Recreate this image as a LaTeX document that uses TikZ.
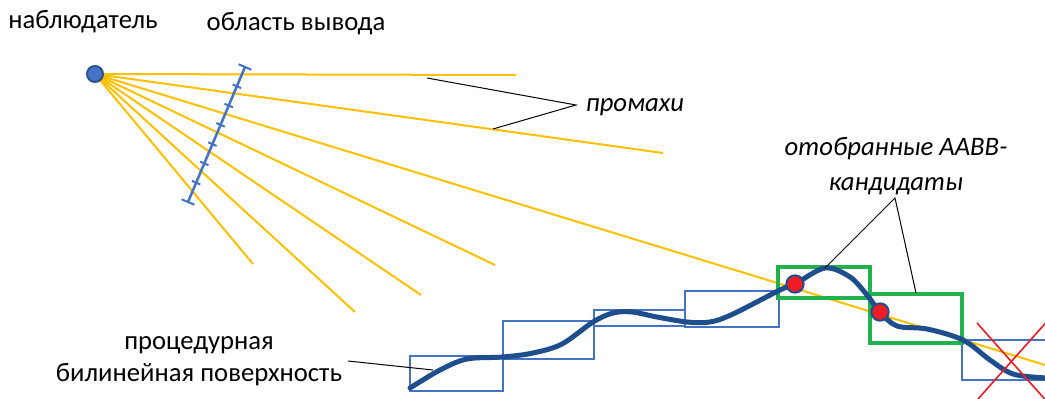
\documentclass[tikz,border=0pt]{standalone}
\usepackage{fontspec}
\setmainfont{Carlito}
\usetikzlibrary{calc}
\definecolor{rayc}{HTML}{FFC000}
\definecolor{boxc}{HTML}{4472C4}
\definecolor{curvec}{HTML}{1F4E8C}
\definecolor{greenc}{HTML}{22B14C}
\definecolor{redc}{HTML}{EE1C25}
\definecolor{dotborder}{HTML}{2F528F}
\tikzset{
  ray/.style={draw=rayc, line width=1.5pt},
  aabb/.style={draw=boxc, line width=2.2pt},
  chosen/.style={draw=greenc, line width=2.5pt},
  leader/.style={draw=black, line width=0.75pt},
  lbl/.style={font=\fontsize{20}{24}\selectfont, inner sep=0pt},
  ilbl/.style={font=\fontsize{20}{26}\selectfont\itshape, inner sep=0pt, align=center},
  hit/.style={circle, fill=redc, draw=curvec, line width=1.5pt, minimum size=13pt, inner sep=0pt},
}
\begin{document}
\begin{tikzpicture}[x=0.75pt,y=-0.75pt]
\useasboundingbox (0,0) rectangle (1045,399);
\clip (0,0) rectangle (1045,399);
\fill[white] (0,0) rectangle (1045,399);

% ray end points
\coordinate (r1) at (516,75);
\coordinate (r2) at (663,153);
\coordinate (r3) at (1060,369.6);
\coordinate (r4) at (495,265);
\coordinate (r5) at (421,295);
\coordinate (r6) at (355,312);
\coordinate (r7) at (253,264);
\coordinate (obsc) at (95,74);

% boxes
\draw[aabb] (410,356) rectangle (503,391);
\draw[aabb] (503,321) rectangle (594,359);
\draw[aabb] (594,310) rectangle (685,326);
\draw[aabb] (685,291) rectangle (779,327);
\draw[aabb] (962,340) rectangle (1060,380);

% rays
\foreach \r in {r1,r2,r3,r4,r5,r6,r7} \draw[ray] (obsc) -- (\r);

% green boxes
\draw[chosen] (778,267) rectangle (870,298);
\draw[chosen] (870,294) rectangle (962,343);

% surface curve
\draw[draw=curvec, line width=3.75pt, line cap=round] plot[smooth, tension=0.55] coordinates {
(410,388) (440,370) (467,359) (503,357) (533,353) (562,344) (593,322) (613,313) (632,312) (657,317) (687,322) (710,322) (733,314) (780,290) (795,284) (825,268) (850,277) (867,295) (880,312) (897,326) (927,329) (963,340) (990,360) (1013,374) (1045,378) (1060,379)};

% hit points
\node[hit] (h1) at (795,284) {};
\node[hit] (h2) at (880,312) {};

% red cross
\draw[draw=redc, line width=1.2pt] (977,323) -- (1050,405);
\draw[draw=redc, line width=1.2pt] (1050,318) -- (978,399);

% observer
\node[circle, fill=boxc, draw=dotborder, line width=1.5pt, minimum size=12pt, inner sep=0pt] (obs) at (obsc) {};

% output area
\coordinate (oa1) at (245,67);
\coordinate (oa2) at (188,202);
\draw[draw=boxc, line width=1.9pt] (oa1) -- (oa2);
\foreach \i in {1,...,6}
  \draw[draw=boxc, line width=1.5pt] ($(oa1)!\i/7!(oa2)$) ++(-4.2,-1.8) -- ++(8.4,3.6);
\draw[draw=boxc, line width=1.5pt] (oa1) ++(-6.4,-2.7) -- ++(12.8,5.4);
\draw[draw=boxc, line width=1.5pt] (oa2) ++(-6.4,-2.7) -- ++(12.8,5.4);

% labels
\node[lbl] (tobs) at (83,22) {наблюдатель};
\node[lbl] (toa) at (296,24) {область вывода};
\node[ilbl] (tmiss) at (635,107) {промахи};
\node[ilbl] (tcand) at (896,166) {отобранные AABB-\\кандидаты};
\node[lbl, align=center, font=\fontsize{20}{24}\selectfont] (tsurf) at (199,361) {процедурная\\билинейная поверхность};

% leaders
\coordinate (m0) at (576,105);
\coordinate (m1) at (427,78);
\coordinate (m2) at (493,129);
\draw[leader] (m1) -- (m0) -- (m2);
\coordinate (c0) at (895,198);
\coordinate (c1) at (825,268);
\coordinate (c2) at (916,293);
\draw[leader] (c1) -- (c0) -- (c2);
\coordinate (s0) at (348,361);
\coordinate (s1) at (433,370);
\draw[leader] (s0) -- (s1);
\end{tikzpicture}
\end{document}
